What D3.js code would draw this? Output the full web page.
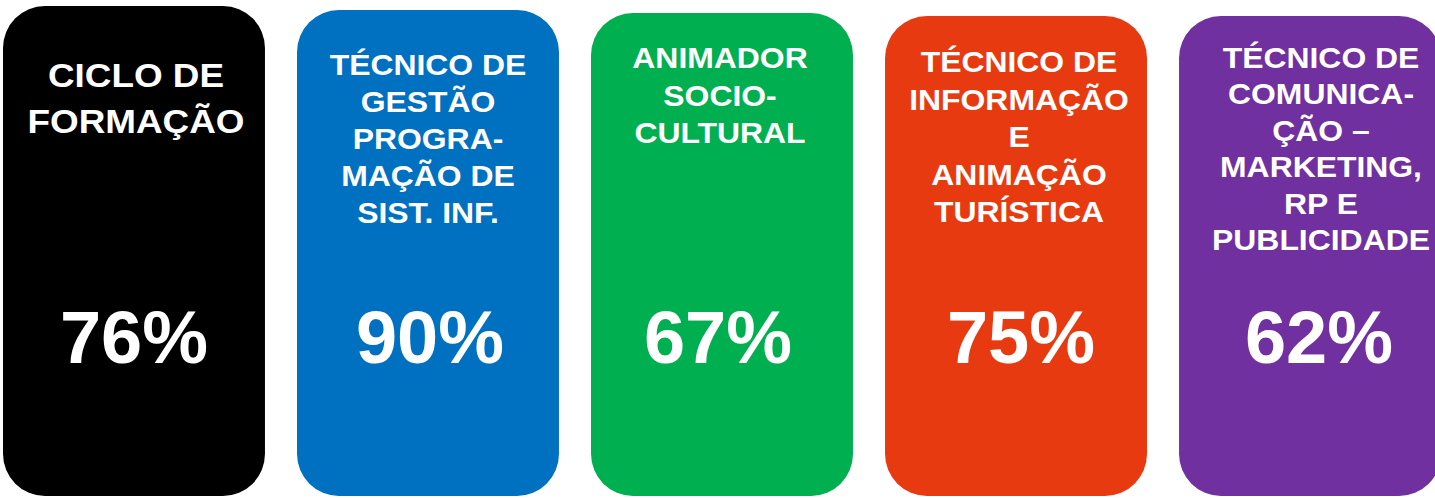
<!DOCTYPE html>
<html>
<head>
<meta charset="utf-8">
<script src="https://cdn.jsdelivr.net/npm/d3@7"></script>
<style>
  html, body { margin: 0; padding: 0; background: #ffffff; }
  svg { display: block; }
</style>
</head>
<body>
<div id="chart"></div>
<script>
// ---- Data ----
const categories = [
  ["CICLO DE", "FORMAÇÃO"],
  ["TÉCNICO DE", "GESTÃO", "PROGRA-", "MAÇÃO DE", "SIST. INF."],
  ["ANIMADOR", "SOCIO-", "CULTURAL"],
  ["TÉCNICO DE", "INFORMAÇÃO", "E", "ANIMAÇÃO", "TURÍSTICA"],
  ["TÉCNICO DE", "COMUNICA-", "ÇÃO –", "MARKETING,", "RP E", "PUBLICIDADE"]
];
const values = [76, 90, 67, 75, 62];
const colors = ["#000000", "#0070C0", "#00B050", "#E83A10", "#7030A0"];

// ---- Layout ----
const W = 1435, H = 498;
const boxTops = [6, 10, 13, 16, 16];
const boxBottom = 496;
const titleFirstBaseline = [87, 75, 68, 72, 68];
const titleLineStep = [46, 37, 37.5, 37.5, 36.4];
const titleSize = [33.5, 29, 29, 29, 29];
const titleDx = [2, 0, -2, 3, 11];
const pctDx = [0, 2, -4, 5, 9];

const svg = d3.select("#chart").append("svg")
  .attr("width", W).attr("height", H);

const idx = d3.range(values.length);
const x = d3.scaleBand().domain(idx).range([3, 1441]).paddingInner(0.109);
const fmt = d => d3.format(".0%")(d / 100);

const g = svg.selectAll("g.card").data(idx).join("g").attr("class", "card");

g.append("rect")
  .attr("x", i => x(i))
  .attr("y", i => boxTops[i])
  .attr("width", x.bandwidth())
  .attr("height", i => boxBottom - boxTops[i])
  .attr("rx", 42).attr("ry", 42)
  .attr("fill", i => colors[i]);

g.each(function(i) {
  const cx = x(i) + x.bandwidth() / 2 + titleDx[i];
  const sel = d3.select(this);
  categories[i].forEach((line, k) => {
    sel.append("text")
      .attr("transform", `translate(${cx},${titleFirstBaseline[i] + k * titleLineStep[i]}) scale(1.1,1)`)
      .attr("text-anchor", "middle")
      .attr("font-family", "Liberation Sans, Arial, sans-serif")
      .attr("font-weight", "bold")
      .attr("font-size", titleSize[i])
      .attr("fill", "#ffffff")
      .text(line);
  });
  sel.append("text")
    .attr("x", x(i) + x.bandwidth() / 2 + pctDx[i])
    .attr("y", 363)
    .attr("text-anchor", "middle")
    .attr("font-family", "Liberation Sans, Arial, sans-serif")
    .attr("font-weight", "bold")
    .attr("font-size", 74)
    .attr("fill", "#ffffff")
    .text(fmt(values[i]));
});
</script>
</body>
</html>
